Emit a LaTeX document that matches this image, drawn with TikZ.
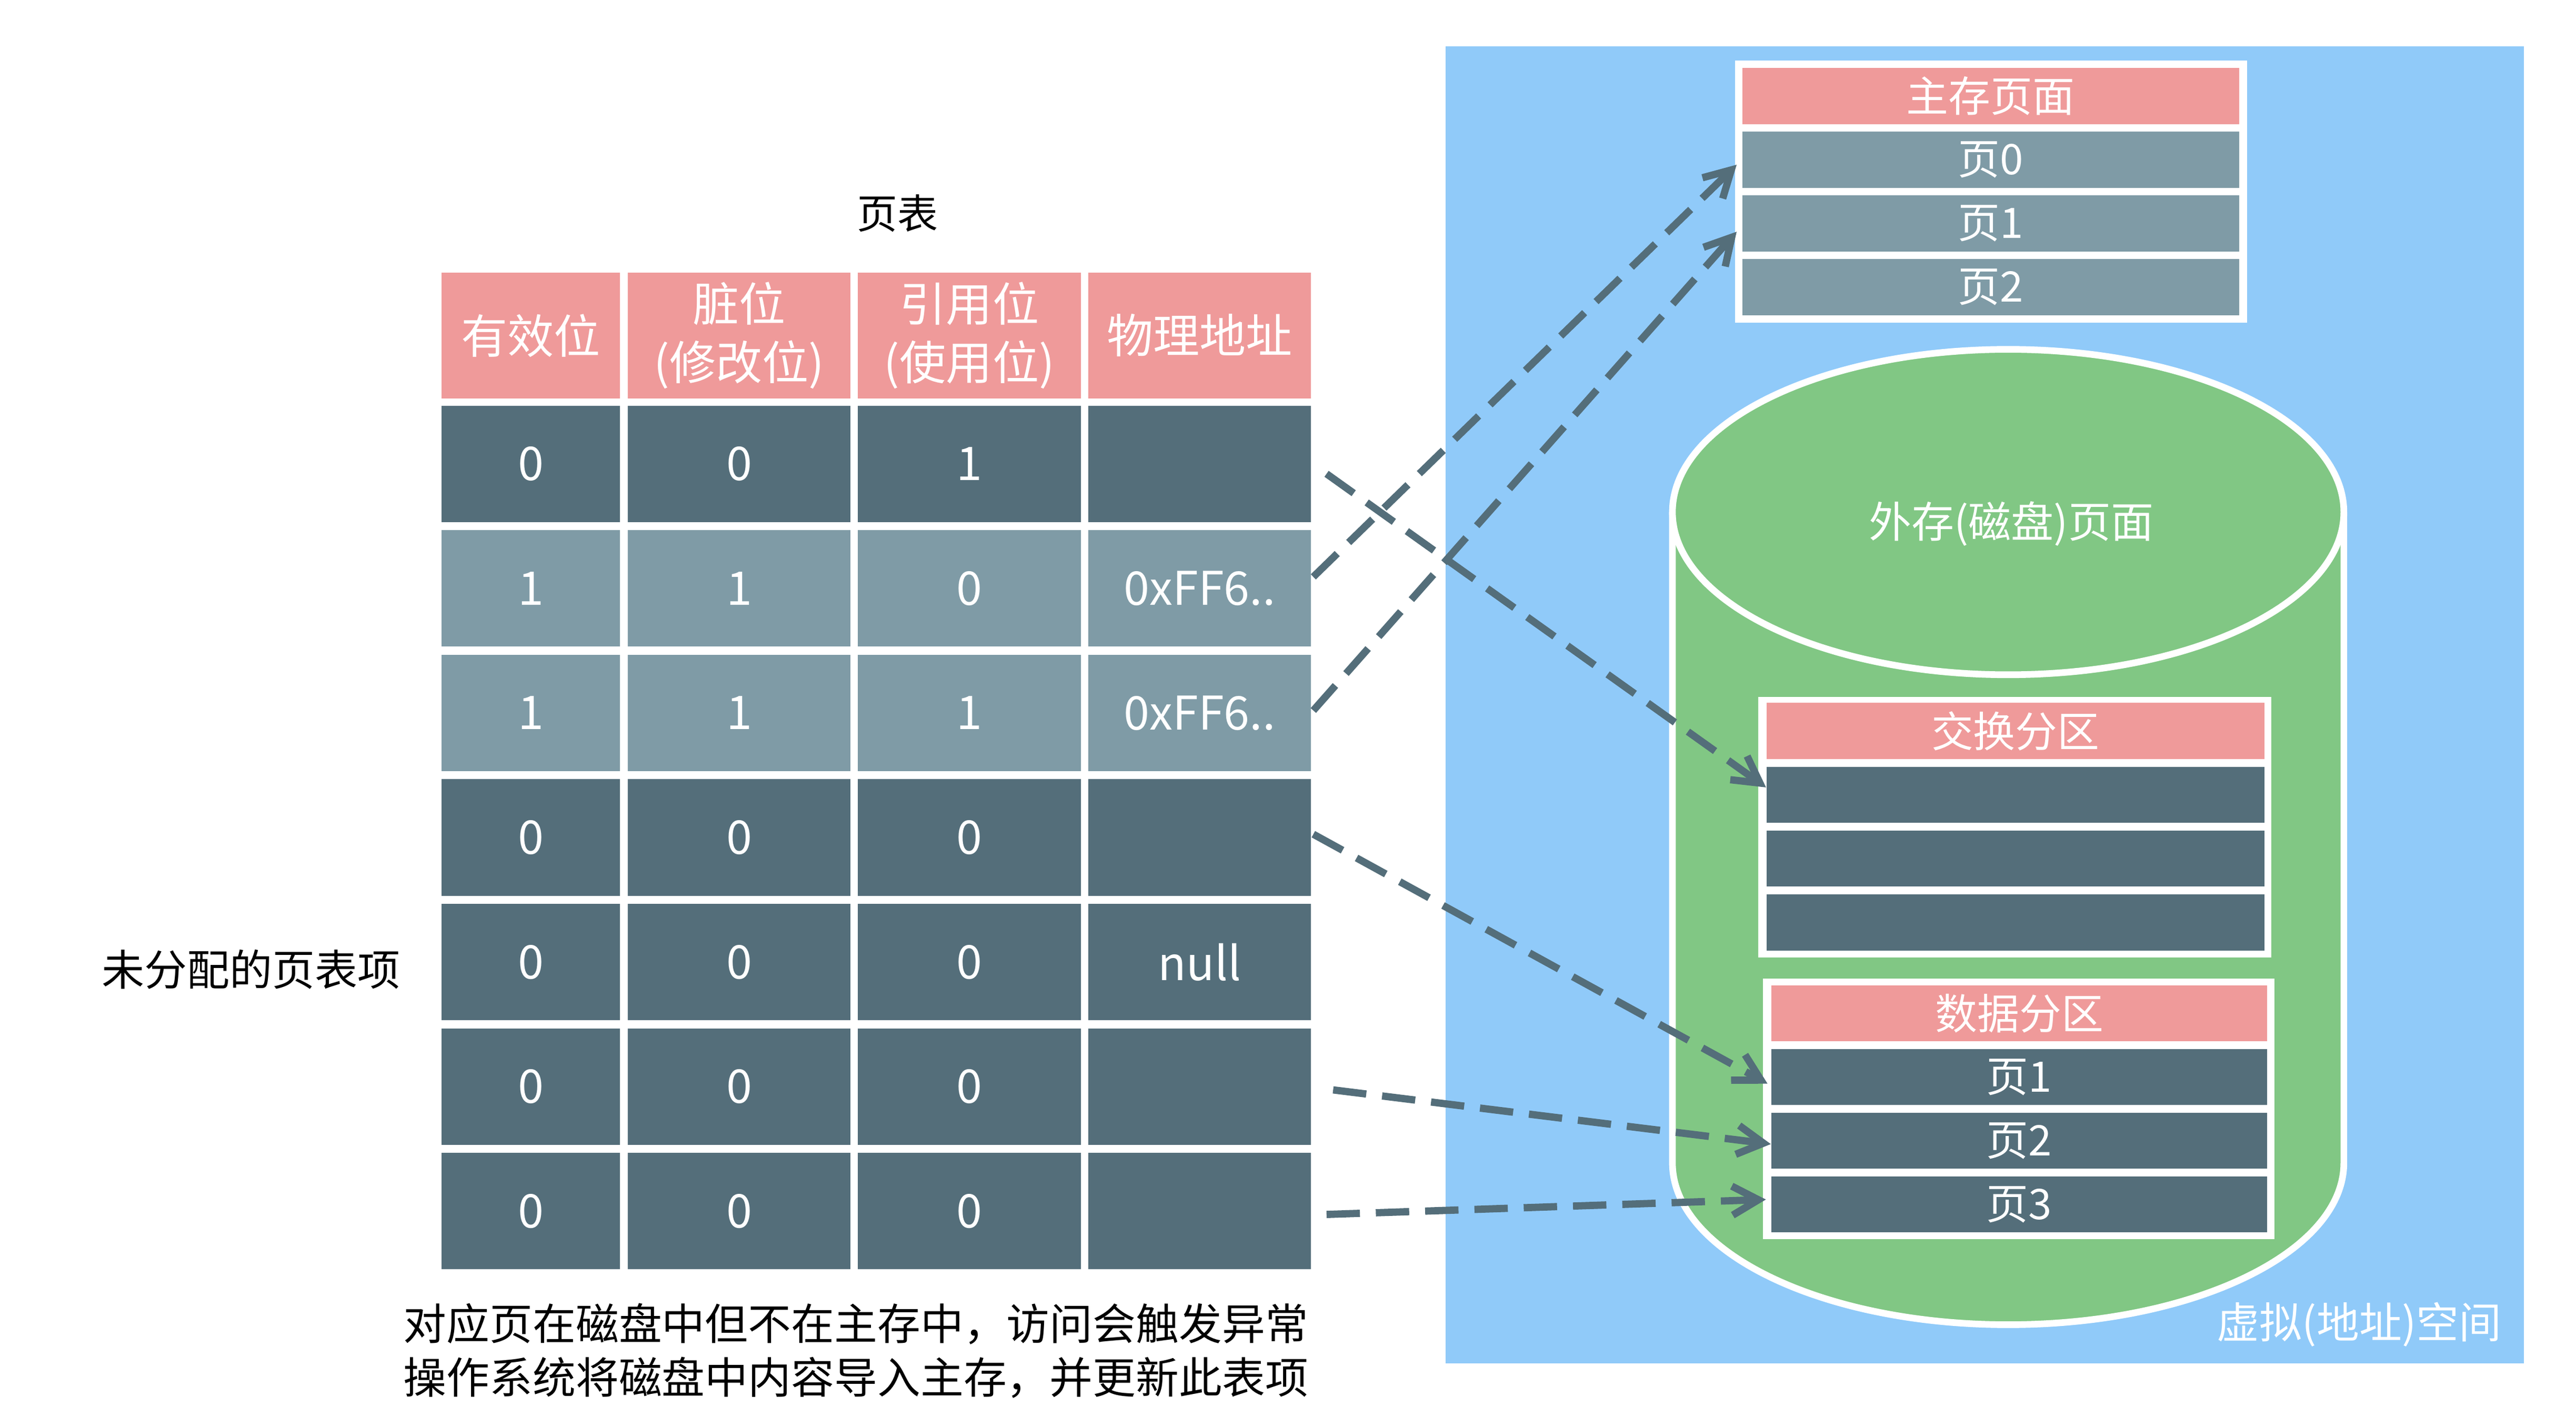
\documentclass[tikz,border=0pt]{standalone}
\usepackage{fontspec}
\setmainfont{Noto Sans CJK SC}
\usetikzlibrary{arrows.meta,calc}

\definecolor{hdrpink}{HTML}{EF9A9A}
\definecolor{rowdark}{HTML}{546E7A}
\definecolor{rowlight}{HTML}{7F9BA6}
\definecolor{vspace}{HTML}{90CAF9}
\definecolor{diskgreen}{HTML}{81C784}

\tikzset{
  cell/.style={inner sep=0pt, minimum height=1.41cm, text=white, align=center,
    font=\fontsize{16}{20}\selectfont},
  pagecell/.style={inner sep=0pt, minimum width=6.02cm, minimum height=0.68cm,
    text=white, font=\fontsize{14.5}{17}\selectfont},
  disk/.style={fill=diskgreen, draw=white, line width=2.3pt},
  pagelink/.style={draw=rowdark, line width=2.5pt, dash pattern=on 11.5pt off 5.5pt,
    -{Straight Barb[length=9pt,width=10pt]}},
}

\begin{document}
\begin{tikzpicture}[x=0.02cm,y=-0.02cm]%
\useasboundingbox (0,0) rectangle (1560,863.3);
% virtual address space
\fill[vspace] (875.6,27.9) rectangle (1528.4,825.5);
\node[inner sep=0pt, anchor=east, text=white, font=\fontsize{14.7}{17}\selectfont] (vslbl) at (1515.3,802) {虚拟(地址)空间};
% disk
\draw[disk] (1012.8,310) -- (1012.8,704) arc[start angle=180,end angle=0,x radius=203.3,y radius=98] -- (1419.4,310);
\draw[disk] (1216.1,310) ellipse[x radius=203.3,y radius=98.5];
\node[text=white, font=\fontsize{14.7}{17}\selectfont] (disklbl) at (1218,317) {外存(磁盘)页面};
% page table
\node[font=\fontsize{14}{17}\selectfont] (title) at (543.5,129) {页表};
\foreach \x/\w/\t [count=\i] in {321.5/2.16cm/有效位, 447.6/2.70cm/{脏位\\(修改位)},
    587/2.70cm/{引用位\\(使用位)}, 726.5/2.70cm/物理地址}
  \node[cell, fill=hdrpink, minimum width=\w, minimum height=1.52cm] (h\i) at (\x,203.1) {\t};
\foreach \a/\b/\c/\d/\clr [count=\r] in {0/0/1//rowdark, 1/1/0/0xFF6../rowlight,
    1/1/1/0xFF6../rowlight, 0/0/0//rowdark, 0/0/0/null/rowdark, 0/0/0//rowdark, 0/0/0//rowdark} {
  \pgfmathsetmacro\y{280.85+(\r-1)*75.4}
  \node[cell, fill=\clr, minimum width=2.16cm] (r\r-1) at (321.5,\y) {\a};
  \node[cell, fill=\clr, minimum width=2.70cm] (r\r-2) at (447.6,\y) {\b};
  \node[cell, fill=\clr, minimum width=2.70cm] (r\r-3) at (587,\y) {\c};
  \node[cell, fill=\clr, minimum width=2.70cm] (r\r-4) at (726.5,\y) {\d};
}
\node[font=\fontsize{14.7}{17}\selectfont] (unalloc) at (152,587) {未分配的页表项};
\node[inner sep=0pt, anchor=west, align=left, font=\fontsize{14.85}{18.4}\selectfont] (note) at (244,817.75)
  {对应页在磁盘中但不在主存中，访问会触发异常\\操作系统将磁盘中内容导入主存，并更新此表项};
% main memory
\fill[white] (1050.7,36.7) rectangle (1360.7,195.3);
\foreach \t/\clr/\nm [count=\i from 0] in {主存页面/hdrpink/memhd, 页0/rowlight/mem0,
    页1/rowlight/mem1, 页2/rowlight/mem2}
  \node[pagecell, fill=\clr] (\nm) at (1205.5,58.15+\i*38.57) {\t};
% swap partition
\fill[white] (1064.7,422) rectangle (1375.4,579.6);
\foreach \t/\clr/\nm [count=\i from 0] in {交换分区/hdrpink/swhd, /rowdark/sw1,
    /rowdark/sw2, /rowdark/sw3}
  \node[pagecell, fill=\clr, minimum width=6.03cm] (\nm) at (1220.55,442.6+\i*38.6) {\t};
% data partition
\fill[white] (1067.7,592.4) rectangle (1377.5,750.3);
\foreach \t/\clr/\nm [count=\i from 0] in {数据分区/hdrpink/dphd, 页1/rowdark/dp1,
    页2/rowdark/dp2, 页3/rowdark/dp3}
  \node[pagecell, fill=\clr, minimum width=6.006cm] (\nm) at (1222.85,613.5+\i*38.57) {\t};
% links
\draw[pagelink] ($(r2-4.east)+(1,-7)$) -- ($(mem0.west)+(-3,3)$);
\draw[pagelink] ($(r3-4.east)+(1,-1.5)$) -- ($(mem1.west)+(-3,5)$);
\draw[pagelink] ($(r1-4.east)+(9,6)$) -- ($(sw1.west)+(0,-4.5)$);
\draw[pagelink] ($(r4-4.east)+(1,-2)$) -- ($(dp1.west)+(-2,4)$);
\draw[pagelink] ($(r6-4.east)+(13,2)$) -- ($(dp2.west)+(0,2)$);
\draw[pagelink] ($(r7-4.east)+(9,2)$) -- ($(dp3.west)+(-3,-3)$);
\end{tikzpicture}
\end{document}
